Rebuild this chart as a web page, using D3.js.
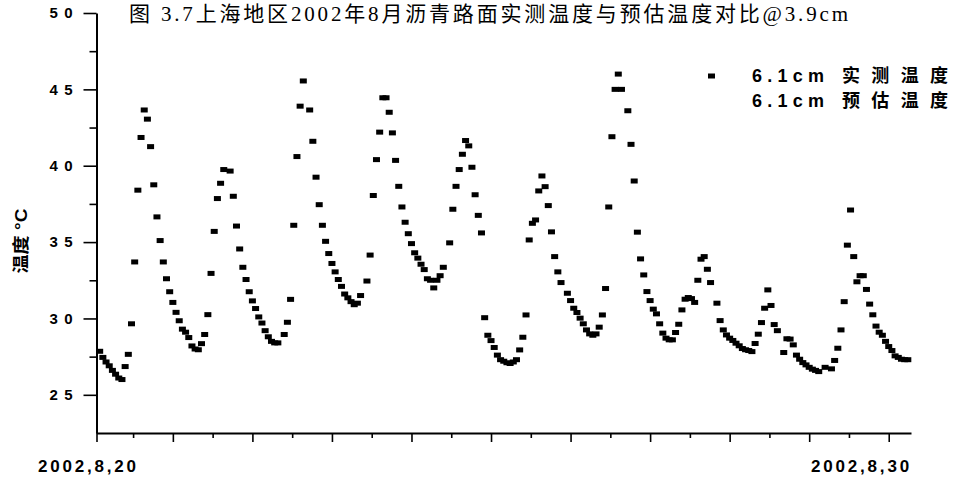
<!DOCTYPE html>
<html>
<head>
<meta charset="utf-8">
<script src="https://cdn.jsdelivr.net/npm/d3@7"></script>
<style>
  html, body { margin: 0; padding: 0; background: #fff; }
  svg { display: block; }
</style>
</head>
<body>
<svg id="chart" width="956" height="478"></svg>
<script>
// ---- data ----------------------------------------------------------
const titleText = "图 3.7上海地区2002年8月沥青路面实测温度与预估温度对比@3.9cm";
const yTitleText = "温度 °C";
const legendDepth = "6.1cm";
const legendNames = ["实测温度", "预估温度"];
const dateLabels = ["2002,8,20", "2002,8,30"];
const dateLabelHours = [-2, 241];
const yTickValues = [25, 30, 35, 40, 45, 50];

// hour counted from the start of 2002-08-20, measured temperature (°C) at 6.1 cm
const hours = [
  2, 3, 4, 5, 6, 7, 8, 9, 10, 11, 12, 13, 14, 15, 16, 17, 18, 19, 20, 21,
  22, 23, 24, 25, 26, 27, 28, 29, 30, 31, 32, 33, 34, 35, 36, 37, 38, 39, 40, 41,
  43, 44, 45, 46, 47, 48, 49, 50, 51, 52, 53, 54, 55, 56, 57, 58, 60, 61, 62, 63,
  64, 65, 66, 68, 69, 70, 71, 72, 73, 74, 75, 76, 77, 78, 79, 80, 81, 82, 83, 84,
  86, 87, 88, 89, 90, 91, 92, 93, 94, 95, 96, 97, 98, 99, 100, 101, 102, 103, 104, 105,
  106, 107, 108, 109, 110, 112, 113, 114, 115, 116, 117, 118, 119, 120, 121, 122, 123, 124, 125, 126,
  127, 128, 129, 130, 131, 132, 133, 134, 135, 136, 137, 138, 139, 140, 141, 142, 143, 144, 145, 146,
  147, 149, 150, 151, 152, 153, 154, 155, 156, 157, 158, 159, 160, 161, 162, 163, 164, 165, 166, 168,
  169, 170, 171, 172, 173, 174, 175, 176, 177, 178, 179, 180, 181, 182, 183, 184, 185, 186, 187, 188,
  189, 190, 191, 192, 193, 194, 196, 197, 198, 199, 200, 201, 202, 203, 204, 205, 206, 207, 208, 209,
  210, 211, 212, 213, 214, 215, 217, 218, 219, 220, 221, 222, 223, 224, 225, 226, 227, 228, 230, 232,
  233, 234, 235, 236, 237, 238, 239, 240, 241, 242, 243, 244, 245, 246, 247, 248, 249, 250, 251, 252,
  253, 254, 255, 256
];
const measured = [
  27.85, 27.45, 27.15, 26.9, 26.6, 26.35, 26.1, 26.0, 26.85, 27.65, 29.65, 33.7, 38.4, 41.85, 43.65, 43.05, 41.25, 38.75, 36.65, 35.1,
  33.7, 32.6, 31.75, 31.05, 30.4, 29.85, 29.3, 29.1, 28.75, 28.2, 28.0, 27.95, 28.35, 28.95, 30.25, 32.95, 35.7, 37.85, 38.85, 39.75,
  39.65, 38.0, 36.05, 34.55, 33.35, 32.55, 31.75, 31.15, 30.65, 30.1, 29.7, 29.2, 28.8, 28.5, 28.4, 28.4, 28.95, 29.75, 31.25, 36.1,
  40.6, 43.9, 45.55, 43.65, 41.6, 39.25, 37.45, 36.1, 35.05, 34.25, 33.6, 33.05, 32.55, 32.1, 31.6, 31.35, 31.1, 30.9, 31.0, 31.5,
  32.45, 34.15, 38.05, 40.4, 42.2, 44.45, 44.45, 43.5, 42.15, 40.35, 38.65, 37.3, 36.3, 35.55, 34.9, 34.3, 33.95, 33.55, 33.2, 32.6,
  32.5, 32.0, 32.5, 32.8, 33.35, 34.95, 37.15, 38.65, 39.75, 40.75, 41.65, 41.3, 39.9, 38.1, 36.75, 35.6, 30.05, 28.9, 28.55, 28.1,
  27.6, 27.3, 27.2, 27.1, 27.05, 27.15, 27.3, 27.94, 28.77, 30.23, 35.14, 36.23, 36.45, 38.35, 39.33, 38.63, 37.39, 35.67, 34.05, 33.05,
  32.35, 31.65, 31.17, 30.67, 30.39, 30.02, 29.65, 29.25, 28.99, 28.9, 28.99, 29.43, 30.23, 31.96, 37.3, 41.9, 45.0, 46.0, 45.0, 43.6,
  41.4, 39.0, 35.65, 33.9, 32.85, 31.76, 31.17, 30.61, 30.3, 29.65, 29.04, 28.71, 28.6, 28.6, 29.08, 29.62, 30.56, 31.26, 31.37, 31.3,
  31.05, 32.5, 33.88, 34.05, 33.22, 32.35, 31.0, 29.86, 29.25, 28.92, 28.71, 28.56, 28.38, 28.21, 28.03, 27.95, 27.9, 27.83, 28.36, 28.97,
  29.73, 30.67, 31.87, 30.85, 29.6, 29.2, 27.77, 28.67, 28.65, 28.27, 27.6, 27.33, 27.11, 26.96, 26.8, 26.68, 26.6, 26.52, 26.8, 26.7,
  27.25, 28.05, 29.25, 31.1, 34.8, 37.1, 34.05, 32.4, 32.8, 32.8, 31.9, 30.94, 30.24, 29.5, 29.1, 28.9, 28.5, 28.16, 27.9, 27.55,
  27.45, 27.33, 27.3, 27.3
];

// ---- layout --------------------------------------------------------
const svg = d3.select("#chart");
const latin = "'Liberation Sans', Arial, sans-serif";
const cjk = "'Liberation Sans', 'Noto Sans CJK SC', sans-serif";

const x = d3.scaleLinear().domain([1, 257]).range([96.5, 911]);
const y = d3.scaleLinear().domain([22.5, 50]).range([433, 13]);

// ---- y axis --------------------------------------------------------
const yAxisG = svg.append("g").attr("transform", `translate(${x(1)},0)`);
yAxisG.call(d3.axisLeft(y).tickValues(yTickValues).tickSize(13).tickSizeOuter(0).tickPadding(11));
yAxisG.select(".domain").attr("stroke", "#000").attr("stroke-width", 2);
yAxisG.selectAll(".tick line").attr("stroke", "#000").attr("stroke-width", 1.6);
yAxisG.selectAll(".tick text")
  .attr("font-family", latin).attr("font-weight", "bold").attr("font-size", 15)
  .attr("fill", "#000").attr("textLength", 23).attr("lengthAdjust", "spacing");

const yMinorG = svg.append("g").attr("transform", `translate(${x(1)},0)`);
yMinorG.call(d3.axisLeft(y).tickValues(d3.range(27.5, 50, 5)).tickSize(7).tickSizeOuter(0).tickFormat(""));
yMinorG.select(".domain").remove();
yMinorG.selectAll(".tick line").attr("stroke", "#000").attr("stroke-width", 1.6);

// ---- x axis --------------------------------------------------------
const xAxisG = svg.append("g").attr("transform", `translate(0,${y(22.5)})`);
xAxisG.call(d3.axisBottom(x).tickValues([1].concat(d3.range(25, 257, 25))).tickSize(9).tickSizeOuter(0).tickFormat(""));
xAxisG.select(".domain").attr("stroke", "#000").attr("stroke-width", 2);
xAxisG.selectAll(".tick line").attr("stroke", "#000").attr("stroke-width", 1.6);

const xMinorG = svg.append("g").attr("transform", `translate(0,${y(22.5)})`);
xMinorG.call(d3.axisBottom(x).tickValues(d3.range(12.5, 257, 25)).tickSize(5).tickSizeOuter(0).tickFormat(""));
xMinorG.select(".domain").remove();
xMinorG.selectAll(".tick line").attr("stroke", "#000").attr("stroke-width", 1.6);

svg.append("g").selectAll("text").data(dateLabels).join("text")
  .attr("x", (d, i) => x(dateLabelHours[i]))
  .attr("y", 472)
  .attr("text-anchor", "middle")
  .attr("font-family", latin).attr("font-weight", "bold").attr("font-size", 17)
  .attr("textLength", 98).attr("lengthAdjust", "spacing")
  .attr("fill", "#000")
  .text(d => d);

// ---- axis title & chart title --------------------------------------
svg.append("text")
  .attr("transform", "translate(27,241) rotate(-90)")
  .attr("text-anchor", "middle")
  .attr("font-family", cjk).attr("font-weight", "bold").attr("font-size", 17)
  .attr("textLength", 65).attr("lengthAdjust", "spacingAndGlyphs")
  .attr("fill", "#000")
  .text(yTitleText);

svg.append("text")
  .attr("x", 129).attr("y", 21)
  .attr("font-family", "'Liberation Serif', 'Noto Sans CJK SC', serif")
  .attr("font-size", 21)
  .attr("textLength", 719).attr("lengthAdjust", "spacing")
  .attr("fill", "#000")
  .text(titleText);

// ---- measured points -----------------------------------------------
const points = hours.map((h, i) => ({ h, v: measured[i] }));
svg.append("g").selectAll("rect").data(points).join("rect")
  .attr("x", d => x(d.h) - 3.5)
  .attr("y", d => y(d.v) - 2.5)
  .attr("width", 7).attr("height", 5)
  .attr("fill", "#000");

// ---- legend --------------------------------------------------------
const legend = svg.append("g");
legend.append("rect").attr("x", 708).attr("y", 73.5).attr("width", 7).attr("height", 5).attr("fill", "#000");
const rows = legend.selectAll("text").data(legendNames).join("text")
  .attr("y", (d, i) => 82 + i * 25)
  .attr("font-weight", "bold")
  .attr("fill", "#000");
rows.append("tspan")
  .attr("x", 752)
  .attr("font-family", latin).attr("font-size", 18)
  .attr("textLength", 72).attr("lengthAdjust", "spacing")
  .text(legendDepth);
rows.append("tspan")
  .attr("x", 842)
  .attr("font-family", "'Noto Sans CJK SC', sans-serif").attr("font-size", 18)
  .attr("textLength", 106).attr("lengthAdjust", "spacing")
  .text(d => d);
</script>
</body>
</html>
